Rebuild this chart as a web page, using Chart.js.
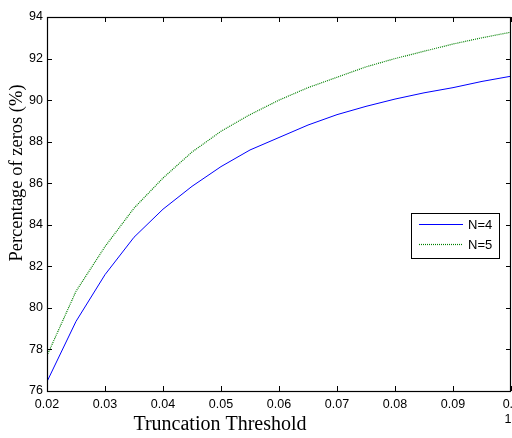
<!DOCTYPE html>
<html>
<head>
<meta charset="utf-8">
<script src="https://cdn.jsdelivr.net/npm/chart.js@4"></script>
<style>
  html, body { margin: 0; padding: 0; background: #fff; }
  canvas { display: block; }
</style>
</head>
<body>
<canvas id="chart" width="512" height="438"></canvas>
<script>
'use strict'

// truncation thresholds
let thresholds = [0.02, 0.025, 0.03, 0.035, 0.04, 0.045, 0.05, 0.055, 0.06,
        0.065, 0.07, 0.075, 0.08, 0.085, 0.09, 0.095, 0.1],
    zerosN4 = [76.45, 79.35, 81.6, 83.4, 84.75, 85.85, 86.8, 87.6, 88.2,
        88.8, 89.3, 89.7, 90.05, 90.35, 90.6, 90.9, 91.15],
    zerosN5 = [77.7, 80.8, 82.95, 84.8, 86.25, 87.5, 88.5, 89.3, 90.0,
        90.6, 91.1, 91.6, 92.0, 92.35, 92.7, 93.0, 93.27],
    seriesNames = ['N=4', 'N=5'],
    xTicks = [0.02, 0.03, 0.04, 0.05, 0.06, 0.07, 0.08, 0.09, 0.1],
    yTicks = [76, 78, 80, 82, 84, 86, 88, 90, 92, 94],
    xTitle = 'Truncation Threshold',
    yTitle = 'Percentage of zeros (%)'

const sans = '"Liberation Sans", Arial, sans-serif'
const serif = '"Liberation Serif", "Times New Roman", serif'

function points(ys) {
    return thresholds.map((x, i) => ({x: x, y: ys[i]}))
}

// white background, box, inward ticks, legend and axis titles (matlab look)
let matlabLook = {
    id: 'matlabLook',
    beforeDraw(chart) {
        let ctx = chart.ctx
        ctx.save()
        ctx.fillStyle = '#fff'
        ctx.fillRect(0, 0, chart.width, chart.height)
        ctx.restore()
    },
    afterDraw(chart) {
        let ctx = chart.ctx,
            a = chart.chartArea,
            xs = chart.scales.x,
            ys = chart.scales.y,
            tl = 5
        ctx.save()
        ctx.strokeStyle = '#000'
        ctx.lineWidth = 1
        ctx.beginPath()
        xTicks.forEach(v => {
            let px = Math.round(xs.getPixelForValue(v)) + 0.5
            ctx.moveTo(px, a.bottom); ctx.lineTo(px, a.bottom - tl)
            ctx.moveTo(px, a.top); ctx.lineTo(px, a.top + tl)
        })
        yTicks.forEach(v => {
            let py = Math.round(ys.getPixelForValue(v)) + 0.5
            ctx.moveTo(a.left, py); ctx.lineTo(a.left + tl, py)
            ctx.moveTo(a.right, py); ctx.lineTo(a.right - tl, py)
        })
        ctx.stroke()
        ctx.lineWidth = 1.2
        ctx.strokeRect(Math.round(a.left) + 0.5, Math.round(a.top) + 0.5,
            Math.round(a.right - a.left) - 1, Math.round(a.bottom - a.top))

        // legend box
        let lx = 411, ly = 213, lw = 88, lh = 45
        ctx.fillStyle = '#fff'
        ctx.fillRect(lx, ly, lw, lh)
        ctx.lineWidth = 1
        ctx.strokeRect(lx + 0.5, ly + 0.5, lw, lh)
        chart.data.datasets.forEach((ds, i) => {
            let y = ly + 11.5 + i * 20
            ctx.strokeStyle = ds.borderColor
            ctx.lineWidth = ds.borderWidth
            ctx.setLineDash(ds.borderDash || [])
            ctx.beginPath()
            ctx.moveTo(lx + 8, y)
            ctx.lineTo(lx + 52, y)
            ctx.stroke()
            ctx.setLineDash([])
            ctx.fillStyle = '#000'
            ctx.font = '13px ' + sans
            ctx.textAlign = 'left'
            ctx.textBaseline = 'middle'
            ctx.fillText(ds.label, lx + 57, y + 1)
        })

        // axis titles
        ctx.fillStyle = '#000'
        ctx.font = '20px ' + serif
        ctx.textAlign = 'center'
        ctx.textBaseline = 'middle'
        ctx.fillText(xTitle, 220, 425)
        ctx.translate(17, 173)
        ctx.rotate(-Math.PI / 2)
        ctx.font = '18.5px ' + serif
        ctx.fillText(yTitle, 0, 0)
        ctx.restore()
    }
}

let myChart = new Chart(document.getElementById('chart'), {
    type: 'line',
    data: {
        datasets: [{
            label: seriesNames[0],
            data: points(zerosN4),
            borderColor: '#0000ff',
            borderWidth: 1,
            pointRadius: 0,
            tension: 0
        }, {
            label: seriesNames[1],
            data: points(zerosN5),
            borderColor: '#008000',
            borderWidth: 1.2,
            borderDash: [1, 1],
            pointRadius: 0,
            tension: 0
        }]
    },
    options: {
        responsive: false,
        animation: false,
        devicePixelRatio: 1,
        layout: {padding: {top: 17, right: 1, left: 0, bottom: 0}},
        plugins: {
            legend: {display: false},
            tooltip: {enabled: false}
        },
        scales: {
            x: {
                type: 'linear',
                min: 0.02,
                max: 0.1,
                afterBuildTicks: s => { s.ticks = xTicks.map(v => ({value: v})) },
                afterFit: s => {
                    s.height = 47
                    s.paddingLeft = 0
                    s.paddingRight = 0
                },
                grid: {display: false, drawTicks: false},
                border: {display: false},
                ticks: {
                    padding: 6,
                    color: '#000',
                    maxRotation: 0,
                    autoSkip: false,
                    font: {family: sans, size: 12.5},
                    // the last label wraps at the figure edge, as in the original
                    callback: v => v >= 0.0999 ? ['0.\u2002', '1\u2002'] : v.toFixed(2)
                }
            },
            y: {
                min: 76,
                max: 94,
                afterBuildTicks: s => { s.ticks = yTicks.map(v => ({value: v})) },
                afterFit: s => {
                    s.width = 47
                    s.paddingTop = 0
                    s.paddingBottom = 0
                },
                grid: {display: false, drawTicks: false},
                border: {display: false},
                ticks: {
                    padding: 4,
                    color: '#000',
                    font: {family: sans, size: 12.5}
                }
            }
        }
    },
    plugins: [matlabLook]
})
</script>
</body>
</html>
